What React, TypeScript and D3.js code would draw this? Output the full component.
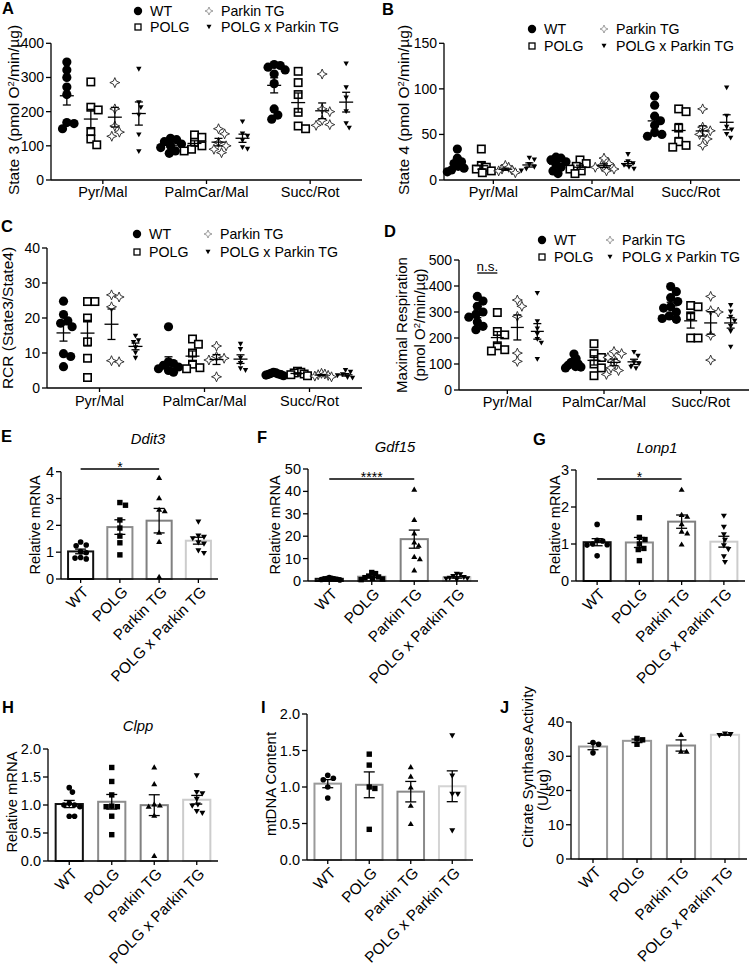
import React from 'react';
import * as d3 from 'd3';

const FONT = "'Liberation Sans', Arial, Helvetica, sans-serif";
const groups = ['WT', 'POLG', 'Parkin TG', 'POLG x Parkin TG'];
const substrates = ['Pyr/Mal', 'PalmCar/Mal', 'Succ/Rot'];

// A: State 3 [substrate][points]
const state3_WT = [[345, 322, 300, 272, 250, 168, 150, 165], [122, 118, 112, 105, 100, 95, 85, 78], [338, 335, 330, 322, 310, 282, 208, 190, 178]];
const state3_POLG = [[287, 213, 205, 142, 120, 103], [132, 125, 110, 100, 90, 85], [318, 285, 250, 198, 158, 150]];
const state3_Parkin = [[285, 208, 158, 140, 128], [150, 135, 110, 100, 90, 80], [310, 208, 200, 175, 162, 160]];
const state3_PxP = [[324, 226, 212, 190, 132, 83], [170, 135, 128, 115, 95, 90], [340, 270, 240, 200, 165, 152]];
const state3Ticks = [0, 100, 200, 300, 400];

// B: State 4
const state4_WT = [[34, 24, 20, 18, 15, 13, 11, 9], [25, 24, 22, 20, 17, 14, 10, 7], [92, 82, 70, 65, 60, 52, 50, 48]];
const state4_POLG = [[34, 16, 14, 12, 10, 8], [22, 18, 15, 12, 10, 7], [78, 75, 57, 42, 38, 36]];
const state4_Parkin = [[16, 14, 12, 11, 10, 8], [24, 18, 16, 14, 12, 10], [78, 58, 54, 50, 45, 38]];
const state4_PxP = [[24, 22, 17, 14, 12, 10], [28, 20, 18, 16, 14, 12], [101, 70, 58, 55, 50, 46]];
const state4Ticks = [0, 50, 100, 150];

// C: RCR
const rcr_WT = [[24.8, 21, 19.2, 18.5, 17.5, 9.8, 9.0, 6.1], [17.5, 7.5, 7, 6.5, 6, 5.5, 5, 4.5], [4.5, 4.3, 4.2, 4, 3.9, 3.8, 3.7, 3.5]];
const rcr_POLG = [[24.7, 24.7, 20, 13.2, 8.5, 3], [14, 12.5, 10, 6.8, 5.8, 5.5], [4.8, 4.5, 4.3, 4, 3.8, 3.5]];
const rcr_Parkin = [[26.6, 26, 23.2, 7.5, 7.8], [12, 9, 8.5, 8, 3.2], [4.2, 4, 3.8, 3.6, 3.4, 3.2]];
const rcr_PxP = [[14.8, 13.5, 13, 11.5, 10, 8.5], [12.5, 11, 8.5, 7, 5.5, 5], [5, 4.5, 3.8, 3.5, 3, 2.8]];
const rcrTicks = [0, 10, 20, 30, 40];

// D: Maximal respiration
const max_WT = [[360, 342, 322, 300, 290, 280, 262, 245, 232], [138, 120, 110, 105, 100, 95, 90, 88, 85], [398, 378, 355, 340, 320, 315, 300, 285, 275, 272]];
const max_POLG = [[298, 225, 212, 170, 155, 150], [178, 140, 125, 100, 85, 55], [325, 320, 285, 200, 200]];
const max_Parkin = [[346, 322, 283, 142, 110], [148, 140, 125, 110, 85, 75, 60], [360, 305, 300, 210, 115]];
const max_PxP = [[372, 263, 235, 215, 195, 180, 118], [145, 130, 105, 100, 88, 82], [325, 300, 280, 265, 245, 225, 165]];
const maxTicks = [0, 100, 200, 300, 400, 500];

// E-J bar charts [group][points]
const ddit3 = [[1.38, 1.27, 1.24, 1.02, 0.98, 0.8, 0.78, 0.75], [2.85, 2.75, 2.2, 1.9, 1.6, 1.35, 0.9], [3.79, 3.03, 2.6, 2.55, 1.75, 1.4, 0.1], [2.12, 1.6, 1.55, 1.5, 1.35, 1.3, 1.05, 0.95]];
const gdf15 = [[1.5, 1.2, 1.1, 1, 1, 0.8, 0.7, 0.5], [3.8, 3.3, 2.2, 1.8, 1.5, 1.2, 0.9, 0.6], [41, 27.5, 21.5, 17.5, 16, 11, 10, 5], [3, 2.8, 2, 1.5, 1.2, 1, 0.8, 0.5]];
const lonp1 = [[1.53, 1.1, 1.08, 1.0, 0.98, 0.97, 0.68], [1.71, 1.18, 1.12, 1.0, 0.88, 0.85, 0.55], [2.48, 1.8, 1.75, 1.55, 1.35, 1.3, 1.0], [1.75, 1.45, 1.25, 1.1, 0.95, 0.85, 0.65, 0.5]];
const clpp = [[1.31, 1.23, 1.03, 1.0, 1.0, 0.97, 0.8, 0.8], [1.67, 1.42, 1.18, 0.98, 0.97, 0.97, 0.8, 0.47], [1.68, 1.38, 1.02, 1.0, 0.98, 0.82, 0.1], [1.52, 1.22, 1.2, 1.1, 1.0, 0.98, 0.88, 0.85]];
const mtdna = [[1.16, 1.12, 1.1, 1.0, 0.85], [1.45, 1.3, 1.0, 0.98, 0.42], [1.28, 1.15, 1.0, 0.75, 0.5], [1.7, 1.15, 0.9, 0.9, 0.4]];
const citrate = [[34, 33.5, 31], [35.2, 34.8, 33.5], [36.4, 31.5, 31.5], [36.5, 36.3, 36.0]];
const ddit3Ticks = [0, 1, 2, 3, 4];
const gdf15Ticks = [0, 10, 20, 30, 40, 50];
const lonp1Ticks = [0, 1, 2, 3];
const halfTicks = [0, 0.5, 1, 1.5, 2];
const citrateTicks = [0, 10, 20, 30, 40];

const colorsDark = ['#111111', '#8c8c8c', '#808080', '#cccccc'];
const colorsLight = ['#9a9a9a', '#999999', '#8a8a8a', '#d4d4d4'];

const mean = (a: number[]) => d3.mean(a) as number;
const sem = (a: number[]) => (d3.deviation(a) as number) / Math.sqrt(a.length);

function starPath(s: number) {
  const k = s * 0.3;
  return `M0,${-s}L${k},${-k}L${s},0L${k},${k}L0,${s}L${-k},${k}L${-s},0L${-k},${-k}Z`;
}
function triPath(hw: number, h: number, down: boolean) {
  return down
    ? `M${-hw},${-h / 2}L${hw},${-h / 2}L0,${h / 2}Z`
    : `M${-hw},${h / 2}L${hw},${h / 2}L0,${-h / 2}Z`;
}

function marker(kind: number, x: number, y: number, style: 'scatter' | 'legend' | 'bar', key: any) {
  const t = `translate(${x},${y})`;
  if (style === 'bar') {
    if (kind === 0) return <circle key={key} cx={x} cy={y} r={2.8} fill="#000" />;
    if (kind === 1) return <rect key={key} x={x - 2.7} y={y - 2.7} width={5.4} height={5.4} fill="#000" />;
    return <path key={key} transform={t} d={triPath(3, 5.2, kind === 3)} fill="#000" />;
  }
  const L = style === 'legend';
  if (kind === 0) return <circle key={key} cx={x} cy={y} r={L ? 4.2 : 4.6} fill="#000" />;
  if (kind === 1) {
    const s = L ? 6 : 7.4;
    return <rect key={key} x={x - s / 2} y={y - s / 2} width={s} height={s} fill="#fff" stroke="#000" strokeWidth={L ? 1.3 : 1.6} />;
  }
  if (kind === 2) return <path key={key} transform={t} d={starPath(L ? 4 : 5)} fill="#fff" stroke={L ? '#888' : '#222'} strokeWidth={L ? 0.8 : 0.9} />;
  return <path key={key} transform={t} d={triPath(L ? 2.5 : 2.7, L ? 4.5 : 4.8, true)} fill="#000" />;
}

function swarm(ys: number[], d: number, maxHalf: number): number[] {
  const idx = ys.map((_, i) => i).sort((a, b) => ys[a] - ys[b]);
  const placed: { x: number; y: number }[] = [];
  const xs = new Array(ys.length).fill(0);
  for (const i of idx) {
    const y = ys[i];
    let best = 0;
    outer: for (let k = 0; k < 60; k++) {
      const cands = k === 0 ? [0] : [k * d * 0.2, -k * d * 0.2];
      for (const c of cands) {
        if (placed.every(p => Math.hypot(p.x - c, p.y - y) >= d)) { best = c; break outer; }
      }
    }
    placed.push({ x: best, y });
    xs[i] = best;
  }
  const m = d3.max(xs, v => Math.abs(v)) as number;
  return m > maxHalf ? xs.map(v => (v * maxHalf) / m) : xs;
}

const swarmD = [7.2, 7.4, 7.6, 5];

function ScatterPanel(p: {
  x0: number; x1: number; yb: number; yt: number; max: number; ticks: number[];
  series: number[][][]; gap: number; meanHW: number; catY: number; spread: number;
}) {
  const y = d3.scaleLinear().domain([0, p.max]).range([p.yb, p.yt]);
  const x = d3.scaleBand().domain(substrates).range([p.x0, p.x1]);
  const off = d3.scalePoint().domain(groups).range([-1.5 * p.gap, 1.5 * p.gap]);
  const els: any[] = [];
  p.series.forEach((gs, gi) => {
    gs.forEach((vals, si) => {
      const cx = (x(substrates[si]) as number) + x.bandwidth() / 2 + (off(groups[gi]) as number);
      const ys = vals.map(v => y(v));
      const xs = swarm(ys, swarmD[gi], p.spread);
      vals.forEach((v, k) => els.push(marker(gi, cx + xs[k], ys[k], 'scatter', `m${gi}-${si}-${k}`)));
      const m = mean(vals), s = sem(vals);
      const ym = y(m), yh = y(m + s), yl = y(m - s);
      els.push(
        <g key={`e${gi}-${si}`} stroke="#000" strokeWidth={1.3} fill="none">
          <line x1={cx - p.meanHW} x2={cx + p.meanHW} y1={ym} y2={ym} />
          <line x1={cx} x2={cx} y1={yh} y2={yl} />
          <line x1={cx - 4} x2={cx + 4} y1={yh} y2={yh} />
          <line x1={cx - 4} x2={cx + 4} y1={yl} y2={yl} />
        </g>
      );
    });
  });
  return (
    <g>
      {els}
      <g stroke="#000" strokeWidth={1.3}>
        <line x1={p.x0} x2={p.x0} y1={p.yb} y2={p.yt} />
        <line x1={p.x0} x2={p.x1} y1={p.yb} y2={p.yb} />
        {p.ticks.map(t => <line key={t} x1={p.x0 - 5} x2={p.x0} y1={y(t)} y2={y(t)} />)}
        {substrates.map(s => {
          const cx = (x(s) as number) + x.bandwidth() / 2;
          return <line key={s} x1={cx} x2={cx} y1={p.yb} y2={p.yb + 4} />;
        })}
      </g>
      {p.ticks.map(t => (
        <text key={t} x={p.x0 - 7} y={y(t)} dy="0.35em" textAnchor="end" fontSize={14}>{t}</text>
      ))}
      {substrates.map(s => (
        <text key={s} x={(x(s) as number) + x.bandwidth() / 2} y={p.catY} textAnchor="middle" fontSize={14.5}>{s}</text>
      ))}
    </g>
  );
}

function Legend(p: { c1: number; c2: number; r1: number; r2: number }) {
  const items = [
    { k: 0, x: p.c1, y: p.r1 }, { k: 2, x: p.c2, y: p.r1 },
    { k: 1, x: p.c1, y: p.r2 }, { k: 3, x: p.c2, y: p.r2 },
  ];
  return (
    <g>
      {items.map(it => (
        <g key={it.k}>
          {marker(it.k, it.x, it.y, 'legend', 'l')}
          <text x={it.x + 12} y={it.y} dy="0.36em" fontSize={14.2}>{groups[it.k]}</text>
        </g>
      ))}
    </g>
  );
}

function BarPanel(p: {
  x0: number; x1: number; yb: number; yt: number; max: number; ticks: number[];
  fmt: (n: number) => string; data: number[][]; colors: string[];
  sig?: { a: number; b: number; y: number; text: string };
}) {
  const y = d3.scaleLinear().domain([0, p.max]).range([p.yb, p.yt]);
  const x = d3.scaleBand().domain(groups).range([p.x0, p.x1]).paddingInner(0.36).paddingOuter(0.18);
  const cxOf = (g: string) => (x(g) as number) + x.bandwidth() / 2;
  const bw = x.bandwidth();
  return (
    <g>
      {p.data.map((vals, gi) => {
        const g = groups[gi];
        const cx = cxOf(g);
        const m = mean(vals), s = sem(vals);
        const ys = vals.map(v => y(v));
        const xs = swarm(ys, 5.6, bw / 2 - 3);
        return (
          <g key={g}>
            <rect x={cx - bw / 2} y={y(m)} width={bw} height={p.yb - y(m)} fill="#fff" stroke={p.colors[gi]} strokeWidth={2} />
            <g stroke="#000" strokeWidth={1.3}>
              <line x1={cx} x2={cx} y1={y(m + s)} y2={y(m - s)} />
              <line x1={cx - 5.5} x2={cx + 5.5} y1={y(m + s)} y2={y(m + s)} />
              <line x1={cx - 5.5} x2={cx + 5.5} y1={y(m - s)} y2={y(m - s)} />
            </g>
            {vals.map((v, k) => marker(gi, cx + xs[k], ys[k], 'bar', k))}
          </g>
        );
      })}
      <g stroke="#000" strokeWidth={1.3}>
        <line x1={p.x0} x2={p.x0} y1={p.yb} y2={p.yt} />
        <line x1={p.x0} x2={p.x1} y1={p.yb} y2={p.yb} />
        {p.ticks.map(t => <line key={t} x1={p.x0 - 5} x2={p.x0} y1={y(t)} y2={y(t)} />)}
        {groups.map(g => <line key={g} x1={cxOf(g)} x2={cxOf(g)} y1={p.yb} y2={p.yb + 4} />)}
      </g>
      {p.ticks.map(t => (
        <text key={t} x={p.x0 - 7} y={y(t)} dy="0.35em" textAnchor="end" fontSize={14.5}>{p.fmt(t)}</text>
      ))}
      {groups.map(g => (
        <text key={g} transform={`translate(${cxOf(g) + 5},${p.yb + 10}) rotate(-45)`} dy="0.35em" textAnchor="end" fontSize={15.3}>{g}</text>
      ))}
      {p.sig && (
        <g>
          <line x1={cxOf(groups[p.sig.a])} x2={cxOf(groups[p.sig.b])} y1={p.sig.y} y2={p.sig.y} stroke="#000" strokeWidth={1.5} />
          <text x={(cxOf(groups[p.sig.a]) + cxOf(groups[p.sig.b])) / 2} y={p.sig.y + 2.5} textAnchor="middle" fontSize={14}>{p.sig.text}</text>
        </g>
      )}
    </g>
  );
}

function RotLabel(p: { x: number; y: number; children: any; size?: number }) {
  return (
    <text transform={`translate(${p.x},${p.y}) rotate(-90)`} textAnchor="middle" fontSize={p.size ?? 15}>{p.children}</text>
  );
}

const Sup = () => <tspan baselineShift="super" fontSize="9.5">2</tspan>;

export default function App() {
  const intFmt = d3.format('d');
  const oneFmt = d3.format('.1f');
  // D n.s. positions
  const dX = d3.scaleBand().domain(substrates).range([459, 749]);
  const dOff = d3.scalePoint().domain(groups).range([-30, 30]);
  const dC = (dX('Pyr/Mal') as number) + dX.bandwidth() / 2;
  const nsA = dC + (dOff('WT') as number), nsB = dC + (dOff('POLG') as number);
  return (
    <svg width={754} height={967} style={{ position: 'absolute', left: 0, top: 0, background: '#fff' }} fontFamily={FONT}>
      <rect width={754} height={967} fill="#fff" />
      {/* panel letters */}
      <g fontWeight="bold" fontSize={16.5}>
        <text x={2} y={14}>A</text>
        <text x={382} y={15}>B</text>
        <text x={1} y={232}>C</text>
        <text x={384} y={237}>D</text>
        <text x={1} y={442}>E</text>
        <text x={257} y={443}>F</text>
        <text x={533} y={445}>G</text>
        <text x={2} y={713}>H</text>
        <text x={261} y={713}>I</text>
        <text x={500} y={713}>J</text>
      </g>

      {/* A */}
      <Legend c1={138} c2={209} r1={11} r2={27} />
      <ScatterPanel x0={51} x1={362} yb={180} yt={43.3} max={400} ticks={state3Ticks} spread={11}
        series={[state3_WT, state3_POLG, state3_Parkin, state3_PxP]} gap={24} meanHW={7} catY={197} />
      <RotLabel x={19} y={110} size={15.5}>State 3 (pmol O<Sup />/min/µg)</RotLabel>

      {/* B */}
      <Legend c1={532} c2={604} r1={29} r2={46} />
      <ScatterPanel x0={444} x1={740} yb={180} yt={43.3} max={150} ticks={state4Ticks} spread={10}
        series={[state4_WT, state4_POLG, state4_Parkin, state4_PxP]} gap={24} meanHW={7} catY={197} />
      <RotLabel x={409} y={110} size={15.5}>State 4 (pmol O<Sup />/min/µg)</RotLabel>

      {/* C */}
      <Legend c1={137} c2={208} r1={234} r2={252} />
      <ScatterPanel x0={47} x1={362} yb={388} yt={248} max={40} ticks={rcrTicks} spread={10}
        series={[rcr_WT, rcr_POLG, rcr_Parkin, rcr_PxP]} gap={24} meanHW={7} catY={406} />
      <RotLabel x={13} y={318} size={15.5}>RCR (State3/State4)</RotLabel>

      {/* D */}
      <Legend c1={542} c2={610} r1={240} r2={257} />
      <ScatterPanel x0={459} x1={749} yb={390} yt={260} max={500} ticks={maxTicks} spread={8.5}
        series={[max_WT, max_POLG, max_Parkin, max_PxP]} gap={20} meanHW={6.5} catY={407} />
      <RotLabel x={407} y={325}>Maximal Respiration</RotLabel>
      <RotLabel x={425} y={325}>(pmol O<Sup />/min/µg)</RotLabel>
      <line x1={nsA} x2={nsB} y1={273} y2={273} stroke="#000" strokeWidth={1.3} />
      <text x={(nsA + nsB) / 2} y={270.5} textAnchor="middle" fontSize={13.5}>n.s.</text>

      {/* E */}
      <text x={148} y={444} textAnchor="middle" fontSize={14.8} fontStyle="italic">Ddit3</text>
      <BarPanel x0={61} x1={218} yb={579} yt={471.7} max={4} ticks={ddit3Ticks} fmt={intFmt}
        data={ddit3} colors={colorsDark} sig={{ a: 0, b: 2, y: 469, text: '*' }} />
      <RotLabel x={40} y={525} size={14.5}>Relative mRNA</RotLabel>

      {/* F */}
      <text x={395} y={452} textAnchor="middle" fontSize={14.8} fontStyle="italic">Gdf15</text>
      <BarPanel x0={308} x1={478} yb={581} yt={469} max={50} ticks={gdf15Ticks} fmt={intFmt}
        data={gdf15} colors={colorsDark} sig={{ a: 0, b: 2, y: 479, text: '****' }} />
      <RotLabel x={280} y={525} size={14.5}>Relative mRNA</RotLabel>

      {/* G */}
      <text x={657} y={453} textAnchor="middle" fontSize={14.8} fontStyle="italic">Lonp1</text>
      <BarPanel x0={576} x1={745} yb={581} yt={470} max={3} ticks={lonp1Ticks} fmt={intFmt}
        data={lonp1} colors={colorsDark} sig={{ a: 0, b: 2, y: 479, text: '*' }} />
      <RotLabel x={560} y={525} size={14.5}>Relative mRNA</RotLabel>

      {/* H */}
      <text x={138} y={731} textAnchor="middle" fontSize={14.8} fontStyle="italic">Clpp</text>
      <BarPanel x0={48} x1={218} yb={861} yt={749} max={2} ticks={halfTicks} fmt={oneFmt}
        data={clpp} colors={colorsDark} />
      <RotLabel x={17} y={802} size={14.8}>Relative mRNA</RotLabel>

      {/* I */}
      <BarPanel x0={307} x1={473} yb={860} yt={714} max={2} ticks={halfTicks} fmt={oneFmt}
        data={mtdna} colors={colorsLight} />
      <RotLabel x={276} y={784} size={15}>mtDNA Content</RotLabel>

      {/* J */}
      <BarPanel x0={571} x1={747} yb={859} yt={722} max={40} ticks={citrateTicks} fmt={intFmt}
        data={citrate} colors={colorsLight} />
      <RotLabel x={533} y={767}>Citrate Synthase Activity</RotLabel>
      <RotLabel x={548} y={790}>(U/µg)</RotLabel>
    </svg>
  );
}
